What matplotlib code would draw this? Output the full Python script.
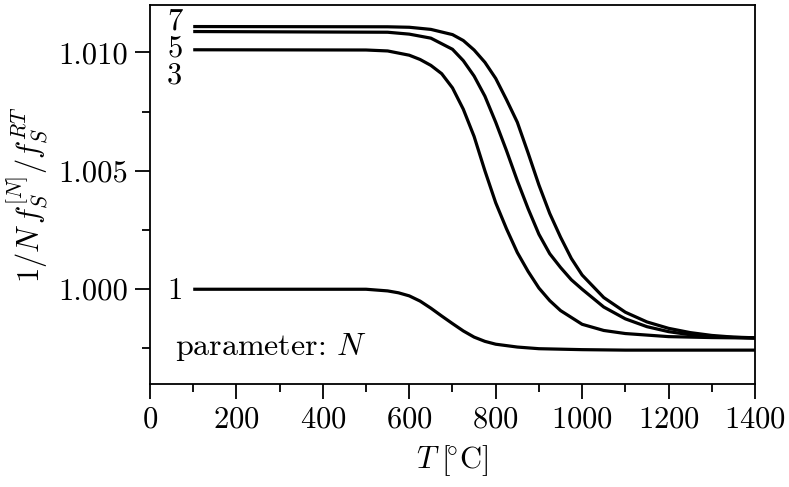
import matplotlib
matplotlib.use("Agg")
import matplotlib.pyplot as plt
from matplotlib.ticker import FixedLocator, MultipleLocator, FormatStrFormatter

plt.rcParams['font.family'] = 'serif'
plt.rcParams['font.serif'] = ['cmr10']
plt.rcParams['mathtext.fontset'] = 'cm'
plt.rcParams['axes.unicode_minus'] = False
plt.rcParams['axes.formatter.use_mathtext'] = True

# ---- data ----
T1 = [100, 500, 550, 575, 600, 625, 650, 675, 700, 725, 750, 775, 800, 850, 900, 1000, 1100, 1400]
v1 = [1.00000, 1.00000, 0.99993, 0.99985, 0.99972, 0.99950, 0.99920, 0.99887, 0.99855,
      0.99824, 0.99798, 0.99780, 0.99768, 0.99756, 0.99749, 0.99745, 0.99743, 0.99743]

T3 = [100, 500, 550, 600, 625, 650, 675, 700, 725, 750, 775, 800, 825, 850, 875, 900,
      925, 950, 1000, 1050, 1100, 1200, 1300, 1400]
v3 = [1.01011, 1.01010, 1.01006, 1.00988, 1.00970, 1.00945, 1.00910, 1.00850, 1.00760,
      1.00645, 1.00500, 1.00365, 1.00255, 1.00155, 1.00075, 1.00005, 0.99952, 0.99910,
      0.99852, 0.99826, 0.99813, 0.99800, 0.99796, 0.99794]

T5 = [100, 550, 600, 650, 700, 725, 750, 775, 800, 825, 850, 875, 900, 925, 950, 975,
      1000, 1050, 1100, 1150, 1200, 1250, 1300, 1400]
v5 = [1.01088, 1.01085, 1.01077, 1.01060, 1.01013, 1.00965, 1.00900, 1.00815, 1.00705,
      1.00585, 1.00458, 1.00340, 1.00232, 1.00150, 1.00092, 1.00040, 1.00000, 0.99925,
      0.99875, 0.99842, 0.99821, 0.99808, 0.99800, 0.99794]

T7 = [100, 550, 600, 650, 700, 725, 750, 775, 800, 825, 850, 875, 900, 925, 950, 975,
      1000, 1050, 1100, 1150, 1200, 1250, 1300, 1350, 1400]
v7 = [1.01109, 1.01108, 1.01106, 1.01097, 1.01075, 1.01050, 1.01010, 1.00958, 1.00890,
      1.00800, 1.00705, 1.00575, 1.00440, 1.00320, 1.00220, 1.00130, 1.00060, 0.99965,
      0.99903, 0.99862, 0.99835, 0.99817, 0.99805, 0.99798, 0.99795]

curve_labels = ["7", "5", "3", "1"]
label_y = [1.0113, 1.01016, 1.00902, 0.99992]
label_x = 75

ytick_vals = [1.000, 1.005, 1.010]

fig = plt.figure(figsize=(7.89, 4.87), dpi=100)
ax = fig.add_axes([150/789, 1-384/487, 605/789, 379/487])

for T, v in [(T1, v1), (T3, v3), (T5, v5), (T7, v7)]:
    ax.plot(T, v, color='black', lw=2.3, solid_capstyle='butt', solid_joinstyle='round')

for lab, yy in zip(curve_labels, label_y):
    ax.text(label_x, yy, lab, ha='right', va='center', fontsize=22)

ax.text(58, 0.99722, r"parameter: $N$", ha='left', va='baseline', fontsize=23)

ax.set_xlim(0, 1400)
ax.set_ylim(0.996, 1.012)
ax.xaxis.set_major_locator(MultipleLocator(200))
ax.xaxis.set_minor_locator(MultipleLocator(100))
ax.yaxis.set_major_locator(FixedLocator(ytick_vals))
ax.yaxis.set_minor_locator(MultipleLocator(0.0025))
ax.yaxis.set_major_formatter(FormatStrFormatter('%.3f'))

ax.tick_params(which='major', direction='out', length=11, width=1.3, labelsize=22, pad=5)
ax.tick_params(which='minor', direction='out', length=6, width=1.3)
for s in ax.spines.values():
    s.set_linewidth(1.3)

ax.set_xlabel(r"$T\;[\!^{\circ}\mathrm{C}]$", fontsize=22)
ax.set_ylabel(r"$1/N\,f_S^{[N]}/f_S^{RT}$", fontsize=22)
ax.yaxis.set_label_coords(-0.165, 0.5)
ax.xaxis.set_label_coords(0.5, -0.155)

fig.savefig("out.png", dpi=100)
